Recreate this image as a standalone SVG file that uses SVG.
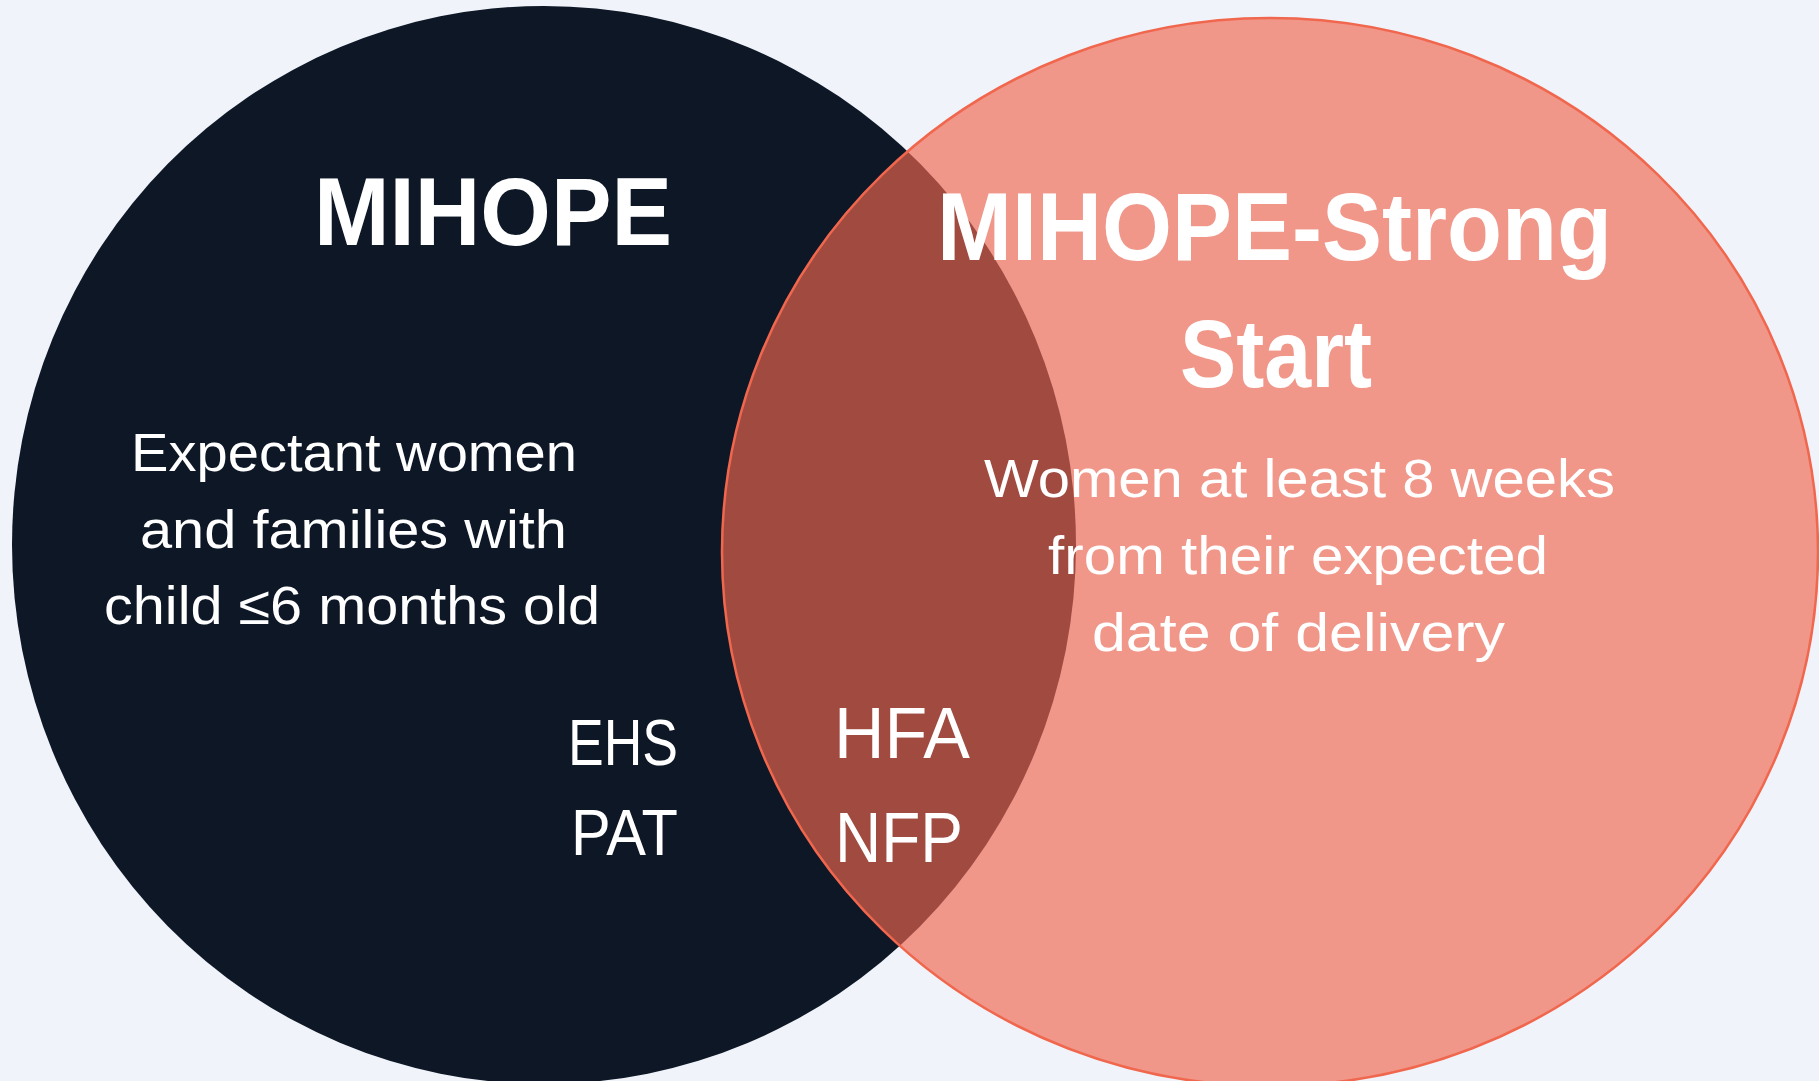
<svg xmlns="http://www.w3.org/2000/svg" width="1819" height="1081" viewBox="0 0 1819 1081">
  <style>
    .title { font-family: "Liberation Sans", "DejaVu Sans", sans-serif; font-weight: bold; font-size: 96px; fill: #FFFFFF; }
    .body { font-family: "Liberation Sans", "DejaVu Sans", sans-serif; font-size: 54px; fill: #FFFFFF; }
    .prog { font-family: "Liberation Sans", "DejaVu Sans", sans-serif; fill: #FFFFFF; }
  </style>
  <rect x="0" y="0" width="1819" height="1081" fill="#F0F4FA"/>
  <g id="mihope-circle">
    <ellipse cx="544" cy="545" rx="532" ry="539" fill="#0D1726"/>
  </g>
  <g id="strong-start-circle">
    <ellipse cx="1270" cy="552" rx="548" ry="534" fill="#F0654E" fill-opacity="0.65" stroke="#F0674E" stroke-width="2.5"/>
  </g>
  <g id="mihope-labels">
    <text class="title" x="314" y="245" textLength="358" lengthAdjust="spacingAndGlyphs">MIHOPE</text>
    <text class="body" x="131" y="471" textLength="446" lengthAdjust="spacingAndGlyphs">Expectant women</text>
    <text class="body" x="140" y="548" textLength="427" lengthAdjust="spacingAndGlyphs">and families with</text>
    <text class="body" x="104" y="624" textLength="496" lengthAdjust="spacingAndGlyphs">child ≤6 months old</text>
  </g>
  <g id="mihope-only-programs">
    <text class="prog" x="568" y="765" font-size="65" textLength="110" lengthAdjust="spacingAndGlyphs">EHS</text>
    <text class="prog" x="571" y="855" font-size="65" textLength="107" lengthAdjust="spacingAndGlyphs">PAT</text>
  </g>
  <g id="overlap-programs">
    <text class="prog" x="834" y="758" font-size="72" textLength="136" lengthAdjust="spacingAndGlyphs">HFA</text>
    <text class="prog" x="835" y="862" font-size="70" textLength="128" lengthAdjust="spacingAndGlyphs">NFP</text>
  </g>
  <g id="strong-start-labels">
    <text class="title" x="937" y="260" textLength="675" lengthAdjust="spacingAndGlyphs">MIHOPE-Strong</text>
    <text class="title" x="1180" y="387" textLength="192" lengthAdjust="spacingAndGlyphs">Start</text>
    <text class="body" x="984" y="497" textLength="631" lengthAdjust="spacingAndGlyphs">Women at least 8 weeks</text>
    <text class="body" x="1048" y="574" textLength="500" lengthAdjust="spacingAndGlyphs">from their expected</text>
    <text class="body" x="1092" y="651" textLength="413" lengthAdjust="spacingAndGlyphs">date of delivery</text>
  </g>
</svg>
